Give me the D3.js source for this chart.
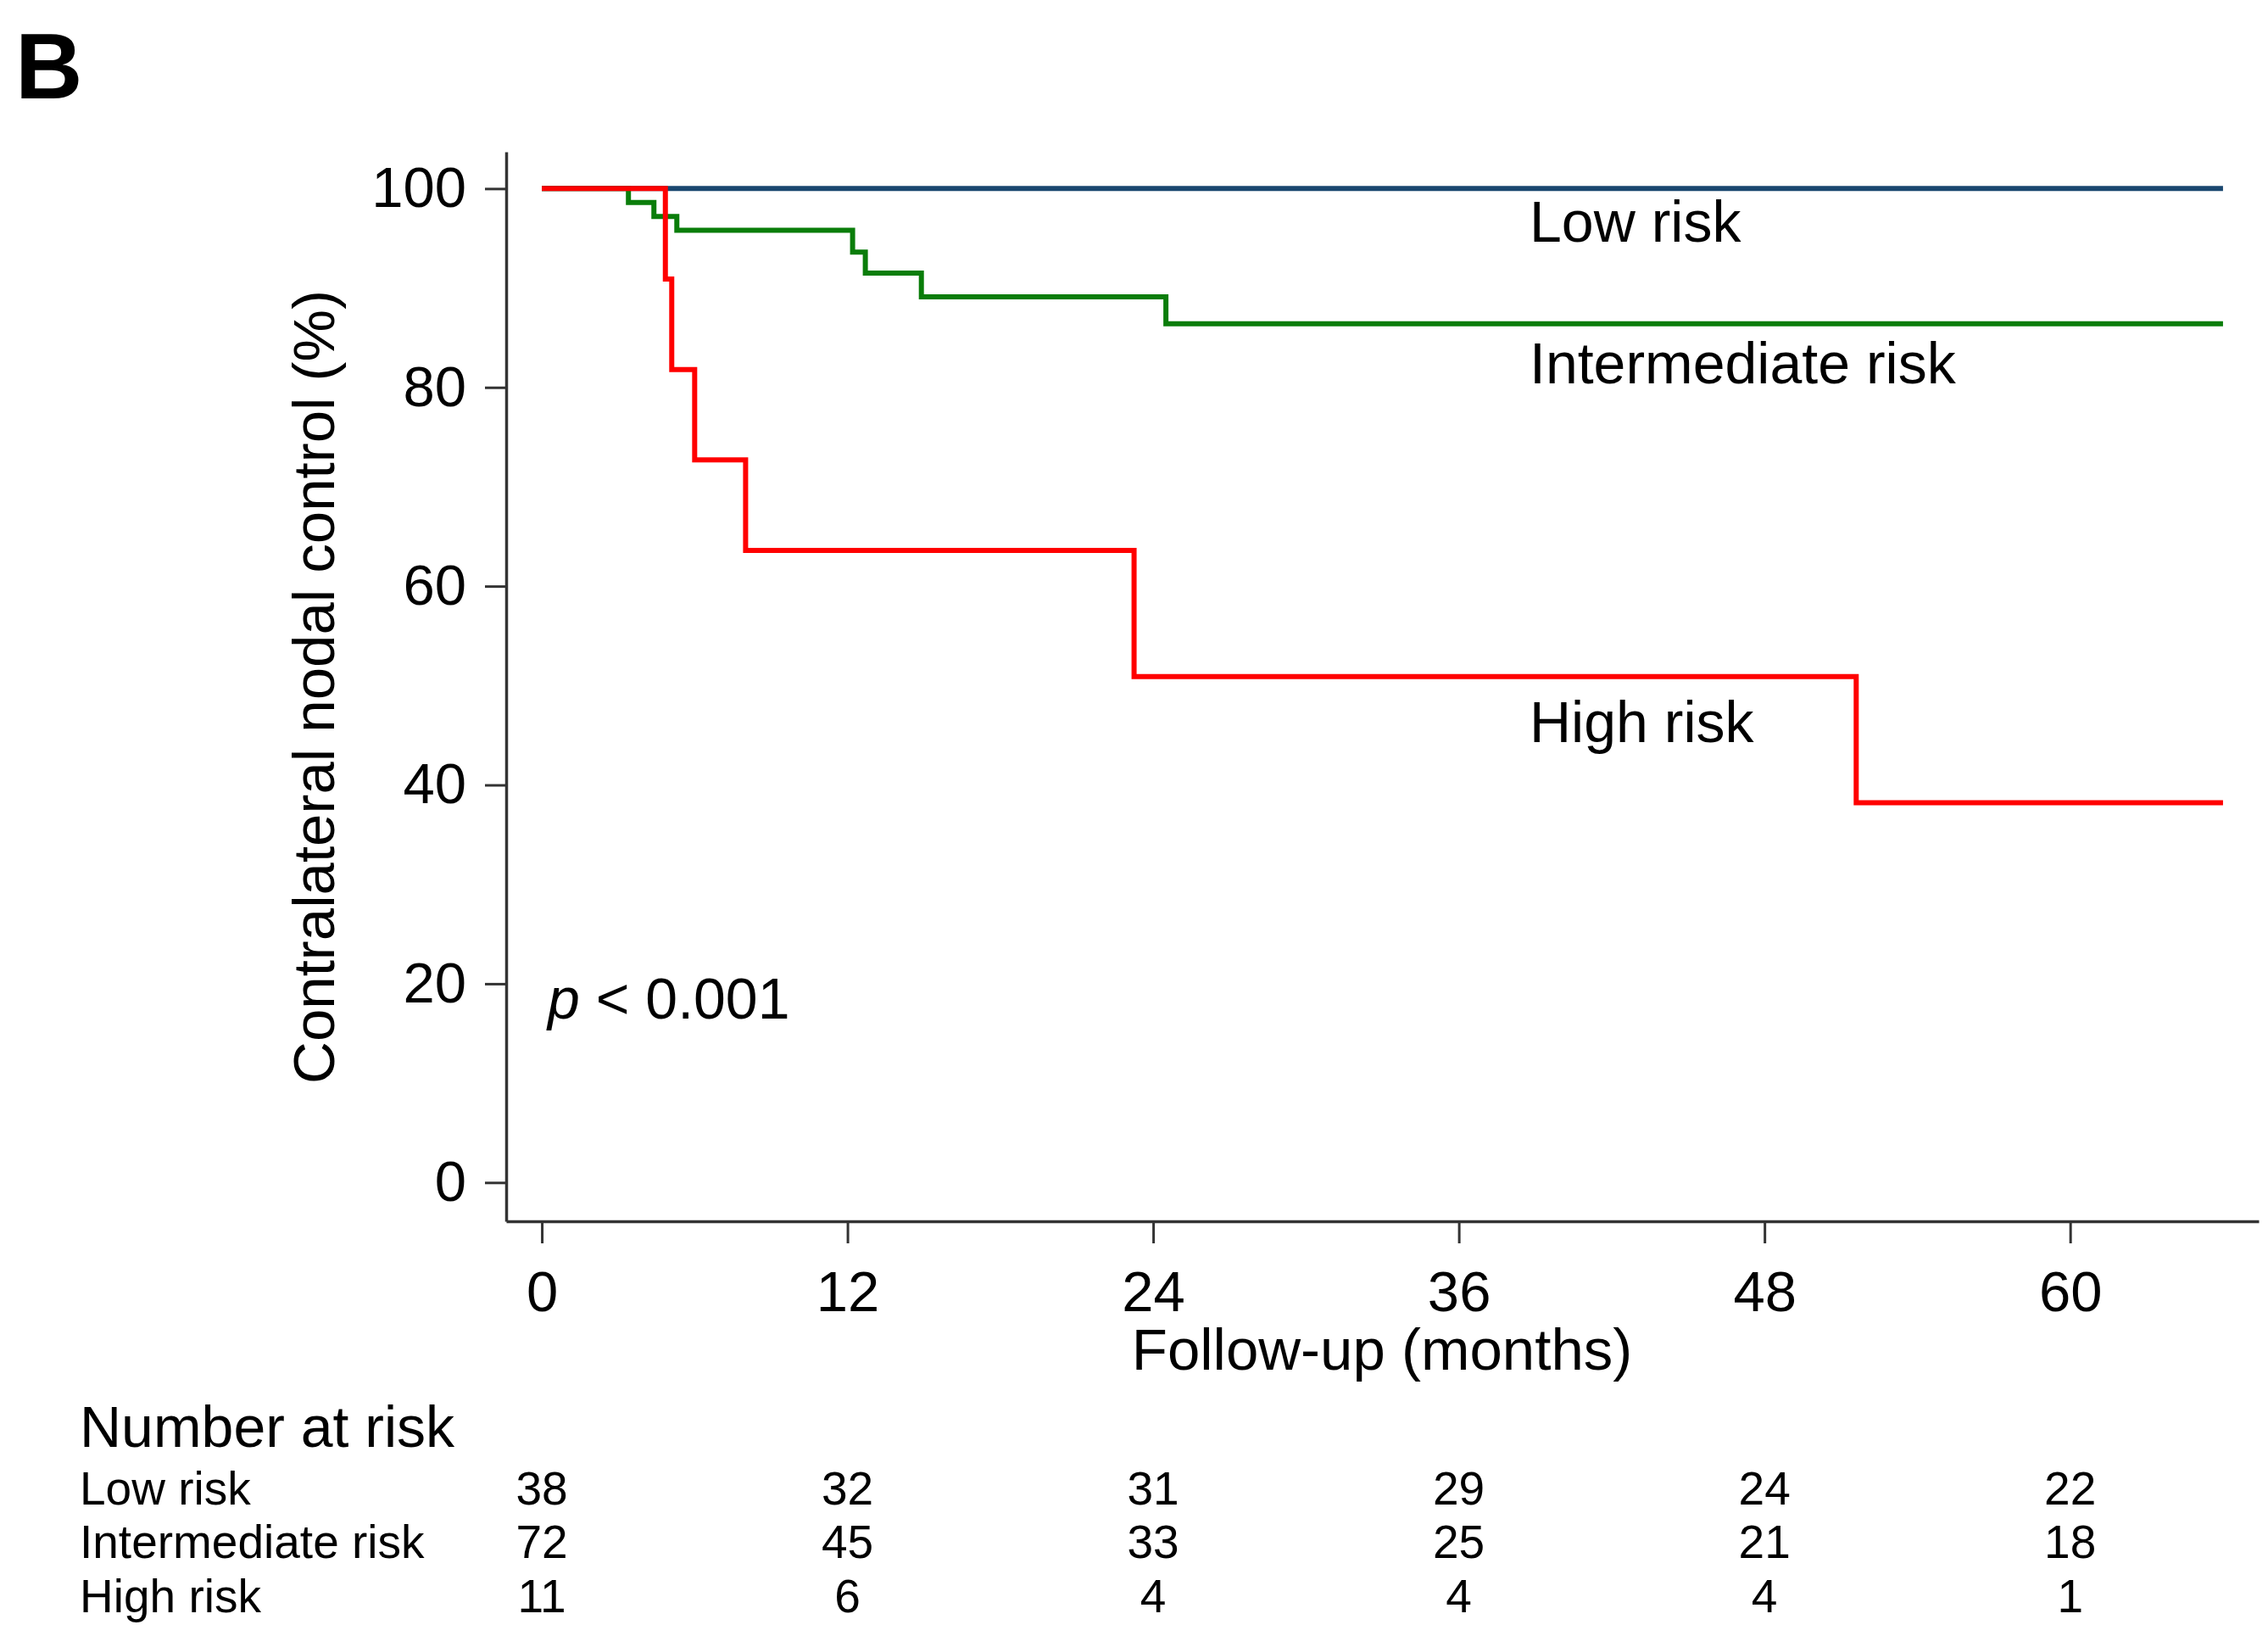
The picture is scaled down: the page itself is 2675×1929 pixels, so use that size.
<!DOCTYPE html>
<html>
<head>
<meta charset="utf-8">
<script src="https://cdn.jsdelivr.net/npm/d3@7"></script>
<style>
  body { margin: 0; background: #fff; }
  text { font-family: "Liberation Sans", Arial, sans-serif; fill: #000; }
</style>
</head>
<body>
<svg id="chart" width="2675" height="1929"></svg>
<script>
// tick labels
const monthTicks = [0, 12, 24, 36, 48, 60];
const pctTicks = [0, 20, 40, 60, 80, 100];

// Kaplan-Meier step points (months, % control)
const lowTimes = [0, 66];
const lowValues = [100, 100];
const midTimes = [0, 3.4, 4.4, 5.3, 12.2, 12.7, 14.9, 24.5, 66];
const midValues = [100, 98.6, 97.2, 95.8, 93.6, 91.5, 89.1, 86.4, 86.4];
const highTimes = [0, 4.85, 5.1, 6.0, 8.0, 23.25, 51.6, 66];
const highValues = [100, 90.9, 81.8, 72.7, 63.6, 50.9, 38.2, 38.2];

// number at risk table
const riskGroups = ["Low risk", "Intermediate risk", "High risk"];
const atRiskLow = [38, 32, 31, 29, 24, 22];
const atRiskMid = [72, 45, 33, 25, 21, 18];
const atRiskHigh = [11, 6, 4, 4, 4, 1];

const svg = d3.select('#chart');

const x = d3.scaleLinear().domain([-1.4, 67.4]).range([597, 2664]);
const y = d3.scaleLinear().domain([-3.9, 103.7]).range([1440, 179]);

// panel letter
svg.append('text')
    .attr('x', 18).attr('y', 116)
    .attr('font-size', 110).attr('font-weight', 'bold')
    .text('B');

// axes
const yAxis = svg.append('g')
    .attr('transform', 'translate(597,0)')
    .call(d3.axisLeft(y).tickValues(pctTicks).tickSize(25).tickSizeOuter(0).tickPadding(22));
const xAxis = svg.append('g')
    .attr('transform', 'translate(0,1440)')
    .call(d3.axisBottom(x).tickValues(monthTicks).tickSize(26).tickSizeOuter(0).tickPadding(32));

[yAxis, xAxis].forEach(g => {
    g.select('.domain').attr('stroke', '#333').attr('stroke-width', 3.5);
    g.selectAll('.tick line').attr('stroke', '#333').attr('stroke-width', 3);
    g.selectAll('.tick text')
        .attr('font-size', 67)
        .attr('font-family', '"Liberation Sans", Arial, sans-serif')
        .attr('fill', '#000');
});

// axis titles
svg.append('text')
    .attr('transform', 'translate(394,810) rotate(-90)')
    .attr('text-anchor', 'middle')
    .attr('font-size', 69)
    .text('Contralateral nodal control (%)');

svg.append('text')
    .attr('x', 1630).attr('y', 1615)
    .attr('text-anchor', 'middle')
    .attr('font-size', 69)
    .text('Follow-up (months)');

// curves
const line = d3.line()
    .x(d => x(d[0]))
    .y(d => y(d[1]))
    .curve(d3.curveStepAfter);

const curves = [
    { times: lowTimes, values: lowValues, color: '#1a476f' },
    { times: midTimes, values: midValues, color: '#0a7d0a' },
    { times: highTimes, values: highValues, color: '#ff0000' }
];

svg.selectAll('path.curve')
    .data(curves)
    .enter()
    .append('path')
    .attr('class', 'curve')
    .attr('d', c => line(c.times.map((t, i) => [t, c.values[i]])))
    .attr('fill', 'none')
    .attr('stroke', c => c.color)
    .attr('stroke-width', 6);

// curve labels
const curveLabels = [
    { text: 'Low risk', baseline: 285 },
    { text: 'Intermediate risk', baseline: 452 },
    { text: 'High risk', baseline: 875 }
];
svg.selectAll('text.curve-label')
    .data(curveLabels)
    .enter()
    .append('text')
    .attr('class', 'curve-label')
    .attr('x', 1804)
    .attr('y', d => d.baseline)
    .attr('font-size', 68)
    .text(d => d.text);

// p value
const pText = svg.append('text')
    .attr('x', 646).attr('y', 1201)
    .attr('font-size', 68);
pText.append('tspan').attr('font-style', 'italic').text('p');
pText.append('tspan').text(' < 0.001');

// number at risk
svg.append('text')
    .attr('x', 94).attr('y', 1706)
    .attr('font-size', 68)
    .text('Number at risk');

const rowBaselines = [1774, 1837, 1901];
const rowCounts = [atRiskLow, atRiskMid, atRiskHigh];

riskGroups.forEach((g, i) => {
    svg.append('text')
        .attr('x', 94).attr('y', rowBaselines[i])
        .attr('font-size', 55)
        .text(g);

    svg.selectAll('text.n' + i)
        .data(rowCounts[i])
        .enter()
        .append('text')
        .attr('class', 'n' + i)
        .attr('x', (d, j) => x(monthTicks[j]))
        .attr('y', rowBaselines[i])
        .attr('text-anchor', 'middle')
        .attr('font-size', 55)
        .text(d => d);
});
</script>
</body>
</html>
